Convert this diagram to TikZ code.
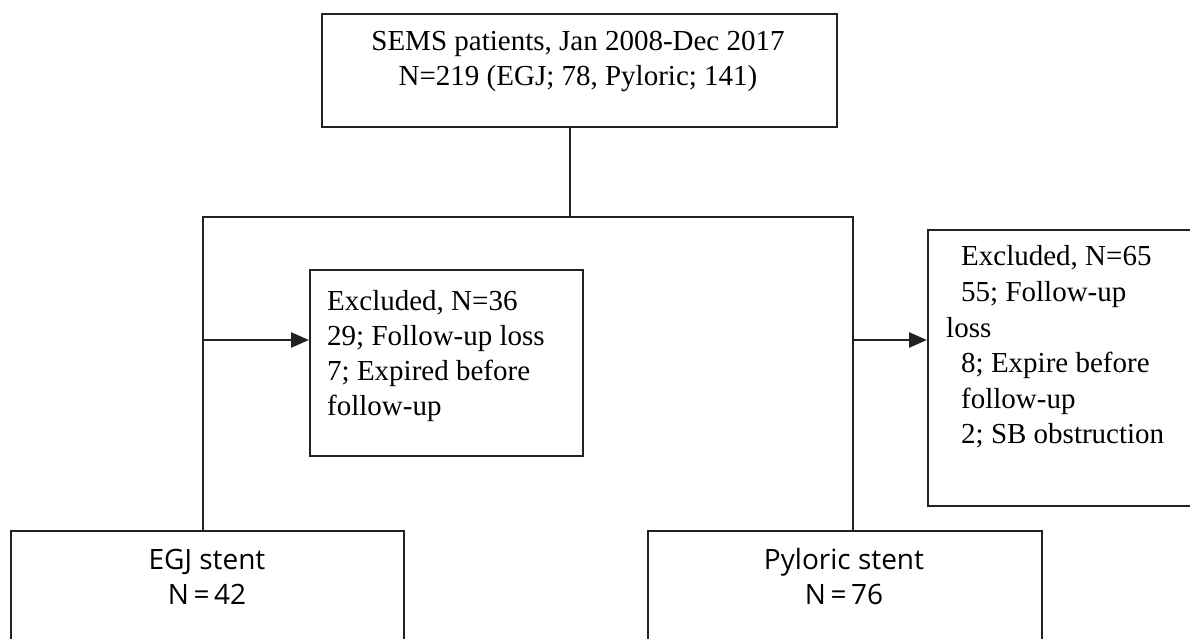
\documentclass[tikz,border=0pt]{standalone}
\usepackage{fontspec}
\setmainfont{Liberation Serif}
\newfontfamily\boxsans{Open Sans}
\usetikzlibrary{arrows.meta}
\definecolor{ink}{HTML}{222222}
\tikzset{
  box/.style={draw=ink, line width=2pt, inner sep=0pt, anchor=north west},
  conn/.style={draw=ink, line width=2.4pt},
  arr/.style={conn, -{Triangle[length=18pt,width=15pt]}},
  serif/.style={inner sep=0pt, anchor=base west, text=black, font=\fontsize{29}{35}\selectfont},
  sans/.style={inner sep=0pt, anchor=base, text=black, font=\boxsans\fontsize{28}{34}\selectfont},
}
\begin{document}
\begin{tikzpicture}[x=1pt,y=-1pt]
\clip (0,0) rectangle (1190,639);
\fill[white] (0,0) rectangle (1190,639);
% boxes
\node[box, minimum width=515pt, minimum height=113pt] (top) at (321,13) {};
\node[box, minimum width=273pt, minimum height=186pt] (ex1) at (309,269) {};
\node[box, minimum width=280pt, minimum height=276pt] (ex2) at (927,229) {};
\node[box, minimum width=393pt, minimum height=130pt] (egj) at (10,530) {};
\node[box, minimum width=394pt, minimum height=130pt] (pyl) at (647,530) {};
% top text
\node[serif, anchor=base] (t1) at (578,51) {SEMS patients, Jan 2008-Dec 2017};
\node[serif, anchor=base] (t2) at (578,86) {N=219 (EGJ; 78, Pyloric; 141)};
% excluded 1
\node[serif] (a1) at (327,310) {Excluded, N=36};
\node[serif] (a2) at (327,345) {29; Follow-up loss};
\node[serif] (a3) at (327,380) {7; Expired before};
\node[serif] (a4) at (327,415) {follow-up};
% excluded 2
\node[serif] (b1) at (961,265) {Excluded, N=65};
\node[serif] (b2) at (961,301) {55; Follow-up};
\node[serif] (b3) at (946,337) {loss};
\node[serif] (b4) at (961,372) {8; Expire before};
\node[serif] (b5) at (961,408) {follow-up};
\node[serif] (b6) at (961,443) {2; SB obstruction};
% bottom texts
\node[sans] (e1) at (207,569) {EGJ stent};
\node[sans] (e2) at (207,604) {N\,=\,42};
\node[sans] (p1) at (844,569) {Pyloric stent};
\node[sans] (p2) at (844,604) {N\,=\,76};
% connectors
\coordinate (topout) at (570,126);
\coordinate (split) at (570,217);
\coordinate (lc) at (203,217);
\coordinate (rc) at (853,217);
\coordinate (la) at (203,340);
\coordinate (ra) at (853,340);
\draw[conn] (topout) -- (split);
\draw[conn, line cap=rect] (lc) -- (rc);
\draw[conn] (lc) -- (egj.north -| lc);
\draw[conn] (rc) -- (pyl.north -| rc);
\draw[arr] (la) -- (la -| ex1.west);
\draw[arr] (ra) -- (ra -| ex2.west);
\end{tikzpicture}
\end{document}
